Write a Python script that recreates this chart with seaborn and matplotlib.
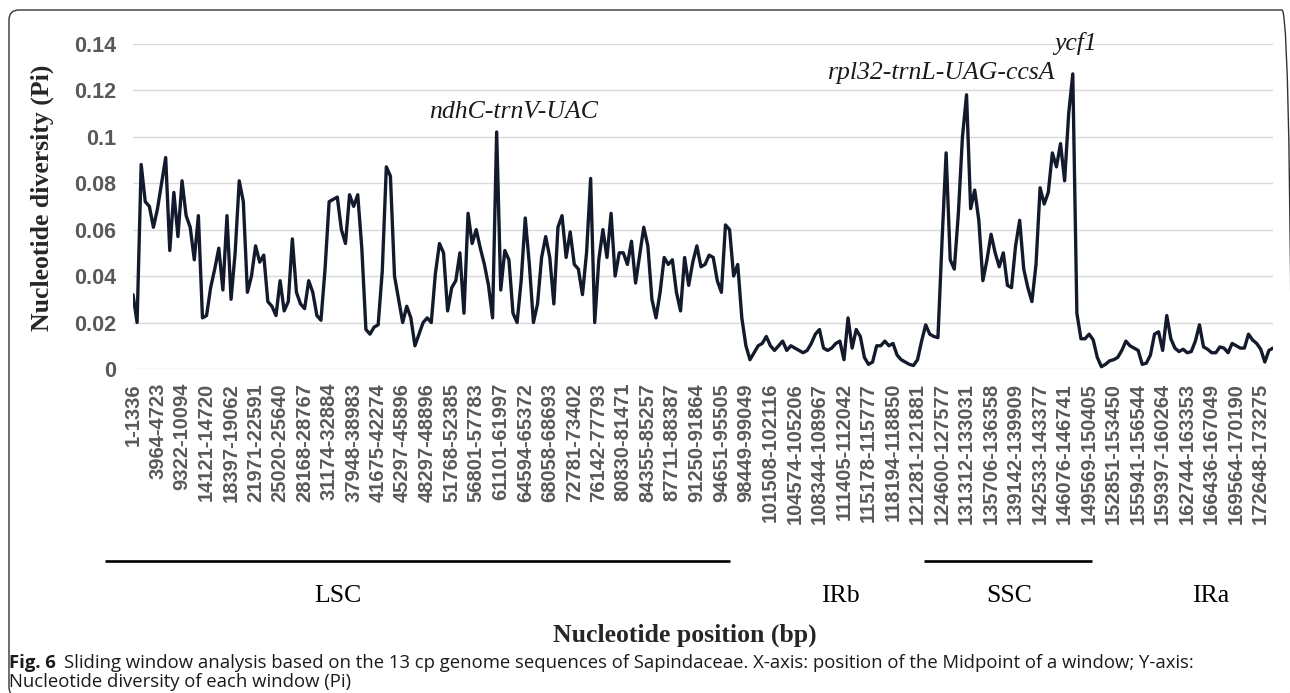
import numpy as np
import pandas as pd
import matplotlib
matplotlib.use("Agg")
import matplotlib.pyplot as plt
import seaborn as sns
from matplotlib.patches import FancyBboxPatch
from matplotlib.transforms import blended_transform_factory, IdentityTransform

# ---------------- data ----------------
pi_values = [
    0.032, 0.020, 0.088, 0.072, 0.070, 0.061, 0.069, 0.080, 0.091, 0.051,
    0.076, 0.057, 0.081, 0.066, 0.061, 0.047, 0.066, 0.022, 0.023, 0.035,
    0.043, 0.052, 0.034, 0.066, 0.030, 0.050, 0.081, 0.072, 0.033, 0.040,
    0.053, 0.046, 0.049, 0.029, 0.027, 0.023, 0.038, 0.025, 0.029, 0.056,
    0.033, 0.028, 0.026, 0.038, 0.033, 0.023, 0.021, 0.043, 0.072, 0.073,
    0.074, 0.060, 0.054, 0.075, 0.070, 0.075, 0.052, 0.017, 0.015, 0.018,
    0.019, 0.042, 0.087, 0.083, 0.040, 0.030, 0.020, 0.027, 0.022, 0.010,
    0.015, 0.020, 0.022, 0.020, 0.041, 0.054, 0.050, 0.025, 0.035, 0.038,
    0.050, 0.024, 0.067, 0.054, 0.060, 0.052, 0.045, 0.036, 0.022, 0.102,
    0.034, 0.051, 0.047, 0.024, 0.020, 0.038, 0.065, 0.045, 0.020, 0.028,
    0.048, 0.057, 0.048, 0.028, 0.061, 0.066, 0.048, 0.059, 0.045, 0.043,
    0.032, 0.050, 0.082, 0.020, 0.047, 0.060, 0.048, 0.067, 0.040, 0.050,
    0.050, 0.045, 0.055, 0.037, 0.049, 0.061, 0.053, 0.030, 0.022, 0.033,
    0.048, 0.045, 0.047, 0.033, 0.025, 0.048, 0.036, 0.046, 0.053, 0.044,
    0.045, 0.049, 0.048, 0.038, 0.033, 0.062, 0.060, 0.040, 0.045, 0.022,
    0.010, 0.004, 0.007, 0.010, 0.011, 0.014, 0.010, 0.008, 0.010, 0.012,
    0.008, 0.010, 0.009, 0.008, 0.007, 0.008, 0.011, 0.015, 0.017, 0.009,
    0.008, 0.009, 0.011, 0.012, 0.004, 0.022, 0.009, 0.017, 0.014, 0.005,
    0.002, 0.003, 0.010, 0.010, 0.012, 0.010, 0.011, 0.006, 0.004, 0.003,
    0.002, 0.0015, 0.004, 0.012, 0.019, 0.015, 0.014, 0.0135, 0.055, 0.093,
    0.047, 0.043, 0.067, 0.100, 0.118, 0.069, 0.077, 0.064, 0.038, 0.047,
    0.058, 0.050, 0.044, 0.050, 0.036, 0.035, 0.053, 0.064, 0.043, 0.035,
    0.029, 0.045, 0.078, 0.071, 0.076, 0.093, 0.087, 0.097, 0.081, 0.110,
    0.127, 0.024, 0.013, 0.013, 0.015, 0.0125, 0.005, 0.001, 0.002, 0.0035,
    0.004, 0.005, 0.008, 0.012, 0.010, 0.009, 0.008, 0.002, 0.0025, 0.006,
    0.015, 0.016, 0.008, 0.023, 0.013, 0.009, 0.0075, 0.0085, 0.007, 0.0075,
    0.012, 0.019, 0.0095, 0.0085, 0.007, 0.007, 0.0095, 0.009, 0.007, 0.011,
    0.010, 0.009, 0.009, 0.015, 0.0125, 0.011, 0.0085, 0.003, 0.008, 0.009,
]

tick_labels = [
    "1-1336", "3964-4723", "9322-10094", "14121-14720", "18397-19062",
    "21971-22591", "25020-25640", "28168-28767", "31174-32884", "37948-38983",
    "41675-42274", "45297-45896", "48297-48896", "51768-52385", "56801-57783",
    "61101-61997", "64594-65372", "68058-68693", "72781-73402", "76142-77793",
    "80830-81471", "84355-85257", "87711-88387", "91250-91864", "94651-95505",
    "98449-99049", "101508-102116", "104574-105206", "108344-108967",
    "111405-112042", "115178-115777", "118194-118850", "121281-121881",
    "124600-127577", "131312-133031", "135706-136358", "139142-139909",
    "142533-143377", "146076-146741", "149569-150405", "152851-153450",
    "155941-156544", "159397-160264", "162744-163353", "166436-167049",
    "169564-170190", "172648-173275",
]
tick_step = 6

y_ticks = [0, 0.02, 0.04, 0.06, 0.08, 0.10, 0.12, 0.14]
y_tick_labels = ["0", "0.02", "0.04", "0.06", "0.08", "0.1", "0.12", "0.14"]

region_names = ["LSC", "IRb", "SSC", "IRa"]
region_centers = [50.2, 173.2, 214.5, 263.8]
region_bars = [(-6.9, 146.2), (193.5, 234.6)]

peak_names = ["ndhC-trnV-UAC", "rpl32-trnL-UAG-ccsA", "ycf1"]
peak_x = [93.1, 198.0, 230.7]
peak_y = [0.1105, 0.1273, 0.1400]

caption_bold = "Fig. 6"
caption_line1 = ("Sliding window analysis based on the 13 cp genome sequences of Sapindaceae. "
                 "X-axis: position of the Midpoint of a window; Y-axis:")
caption_line2 = "Nucleotide diversity of each window (Pi)"

# ---------------- style ----------------
sns.set_style("white")
plt.rcParams['font.family'] = ['Liberation Sans', 'DejaVu Sans']
SERIF = ['Liberation Serif', 'DejaVu Serif']
W, H = 1290, 693

fig = plt.figure(figsize=(W / 100, H / 100), dpi=100)
ax = fig.add_axes([133 / W, 1 - 369 / H, (1273 - 133) / W, (369 - 43.7) / H])

df = pd.DataFrame({"window": np.arange(len(pi_values)), "pi": pi_values})
sns.lineplot(data=df, x="window", y="pi", ax=ax, color="#121a2c", linewidth=2.4)

ax.set_xlim(0, len(pi_values) - 1)
ax.set_ylim(0, 0.14)
ax.set_yticks(y_ticks)
ax.set_yticklabels(y_tick_labels, fontsize=15.5, fontweight='bold', color='#595959')
ax.set_xticks(np.arange(0, len(pi_values), tick_step)[:len(tick_labels)])
ax.set_xticklabels(tick_labels, rotation=90, fontsize=14.5, fontweight='bold', color='#595959')
ax.tick_params(axis='both', length=0)
ax.tick_params(axis='y', pad=12)
ax.tick_params(axis='x', pad=10)
ax.grid(axis='y', color='#d9d9d9', linewidth=1.0)
ax.grid(axis='x', visible=False)
ax.set_axisbelow(True)
for s in ax.spines.values():
    s.set_visible(False)
ax.set_xlabel('')
ax.set_ylabel('')

# peak annotations
for name, x, y in zip(peak_names, peak_x, peak_y):
    ax.text(x, y, name, family=SERIF, style='italic', fontsize=18.5,
            ha='center', va='center', color='#1a1a1a', clip_on=False)

# region bars and names
trans = blended_transform_factory(ax.transData, fig.transFigure)
for a, b in region_bars:
    ax.plot([a, b], [1 - 561 / H, 1 - 561 / H], transform=trans, clip_on=False,
            color='black', linewidth=1.9, solid_capstyle='butt')
for name, x in zip(region_names, region_centers):
    ax.text(x, 1 - 596 / H, name, transform=trans, family=SERIF, fontsize=18.5,
            ha='center', va='center', color='black')

# axis titles
fig.text(685 / W, 1 - 635 / H, "Nucleotide position (bp)", family=SERIF,
         fontweight='bold', fontsize=18.5, ha='center', va='center')
fig.text(42 / W, 1 - 198 / H, "Nucleotide diversity (Pi)", family=SERIF,
         fontweight='bold', fontsize=18.5, ha='center', va='center', rotation=90)

# caption
cap_font = ['Open Sans', 'DejaVu Sans']
cap_size = 13.3
t1 = fig.text(9 / W, 1 - 663 / H, caption_bold, family=cap_font, fontweight='bold',
              fontsize=cap_size, ha='left', va='center', color='#1a1a1a')
fig.canvas.draw()
ax.annotate(caption_line1, xy=(1, 0), xycoords=t1, xytext=(6, 0),
            textcoords='offset points', va='bottom', ha='left',
            family=cap_font, fontsize=cap_size, color='#1a1a1a', annotation_clip=False)
fig.text(9 / W, 1 - 682 / H, caption_line2, family=cap_font, fontsize=cap_size,
         ha='left', va='center', color='#1a1a1a')

# rounded frame
frame = FancyBboxPatch((9, -4), 1283, 687, boxstyle="round,pad=0,rounding_size=10",
                       transform=IdentityTransform(), fill=False,
                       edgecolor='#333333', linewidth=1.0)
fig.patches.append(frame)

fig.savefig("out.png", dpi=100)
